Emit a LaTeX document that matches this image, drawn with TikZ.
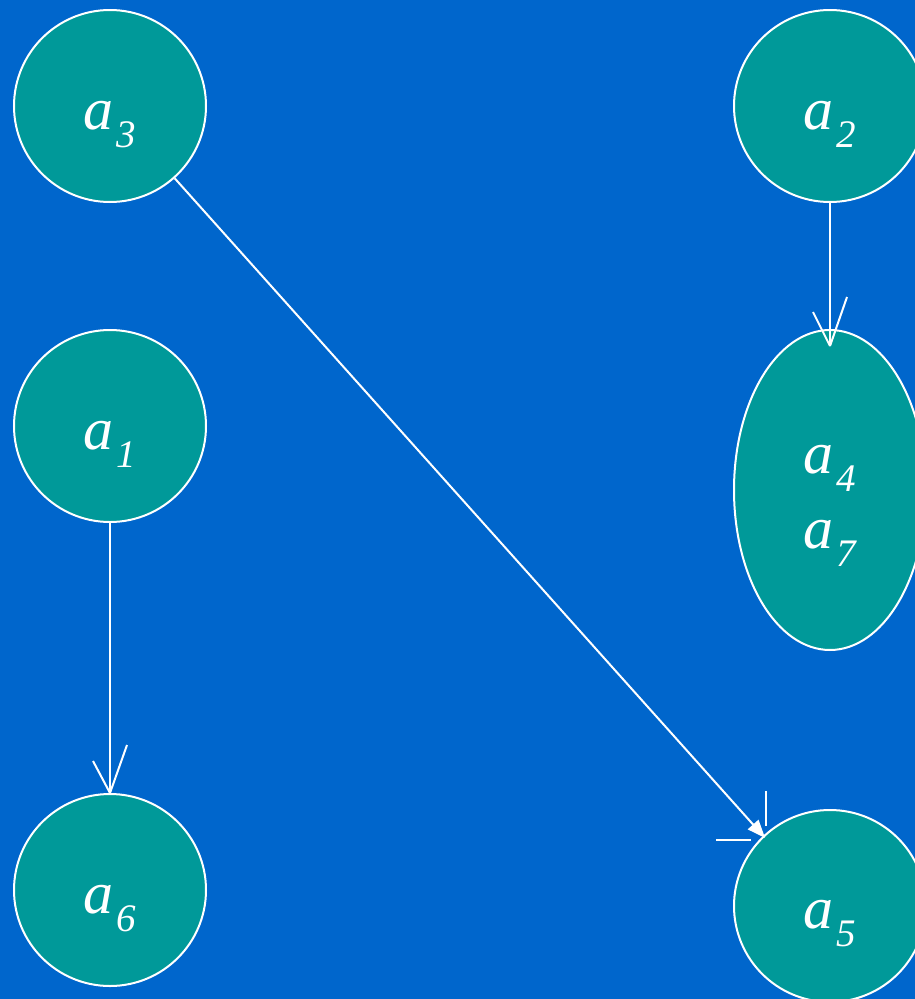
\documentclass[tikz,border=0pt]{standalone}
\usepackage{fontspec}
\setmainfont{Liberation Serif}
\usetikzlibrary{shapes.geometric,arrows.meta}
\definecolor{bgblue}{HTML}{0066CC}
\definecolor{teal9}{HTML}{009999}
\newcommand{\lab}[2]{\itshape #1\hspace{3pt}\raisebox{-18pt}{\fontsize{39}{39}\selectfont #2}}
\begin{document}
\begin{tikzpicture}[x=1pt,y=-1pt,
  ring/.style={circle,draw=white,fill=teal9,line width=2pt,minimum size=192pt,inner sep=0pt},
  oval/.style={ellipse,draw=white,fill=teal9,line width=2pt,minimum width=192pt,minimum height=320pt,inner sep=0pt},
  lbl/.style={text=white,font=\fontsize{60}{60}\selectfont,anchor=base,inner sep=0pt},
  link/.style={draw=white,line width=2pt},
  barb/.style={draw=white,line width=2pt}]
\useasboundingbox (0,0) rectangle (915,999);
\clip (0,0) rectangle (915,999);
\fill[bgblue] (0,0) rectangle (915,999);
% nodes
\node[ring] (a3) at (110,106) {};
\node[ring] (a2) at (830,106) {};
\node[ring] (a1) at (110,426) {};
\node[oval] (a4) at (830,490) {};
\node[ring] (a6) at (110,890) {};
\node[ring] (a5) at (830,906) {};
% labels
\path (a3.center) ++(0,23) node[lbl] (l3) {\lab{a}{3}};
\path (a2.center) ++(0,23) node[lbl] (l2) {\lab{a}{2}};
\path (a1.center) ++(0,23) node[lbl] (l1) {\lab{a}{1}};
\path (a6.center) ++(0,23) node[lbl] (l6) {\lab{a}{6}};
\path (a5.center) ++(0,22) node[lbl] (l5) {\lab{a}{5}};
\path (a4.center) ++(0,-17) node[lbl] (l4) {\lab{a}{4}};
\path (a4.center) ++(0,58) node[lbl] (l7) {\lab{a}{7}};
% connectors
\draw[link] (a1) -- (a6.north);
\draw[barb] (a6.north) -- ++(-17,-32);
\draw[barb] (a6.north) -- ++(17,-48);
\coordinate (t4) at ([yshift=-17pt]a4.north);
\draw[link] (a2) -- (t4);
\draw[barb] (t4) -- ++(-17,-34);
\draw[barb] (t4) -- ++(17,-49);
\coordinate (t5) at ([yshift=-4pt]a5.132);
\draw[link,-{Triangle[length=18pt,width=14pt]}] (a3) -- (t5);
\draw[barb] (t5) ++(1,-47) -- ++(0,35);
\draw[barb] (t5) ++(-49,2) -- ++(35,0);
\end{tikzpicture}
\end{document}
